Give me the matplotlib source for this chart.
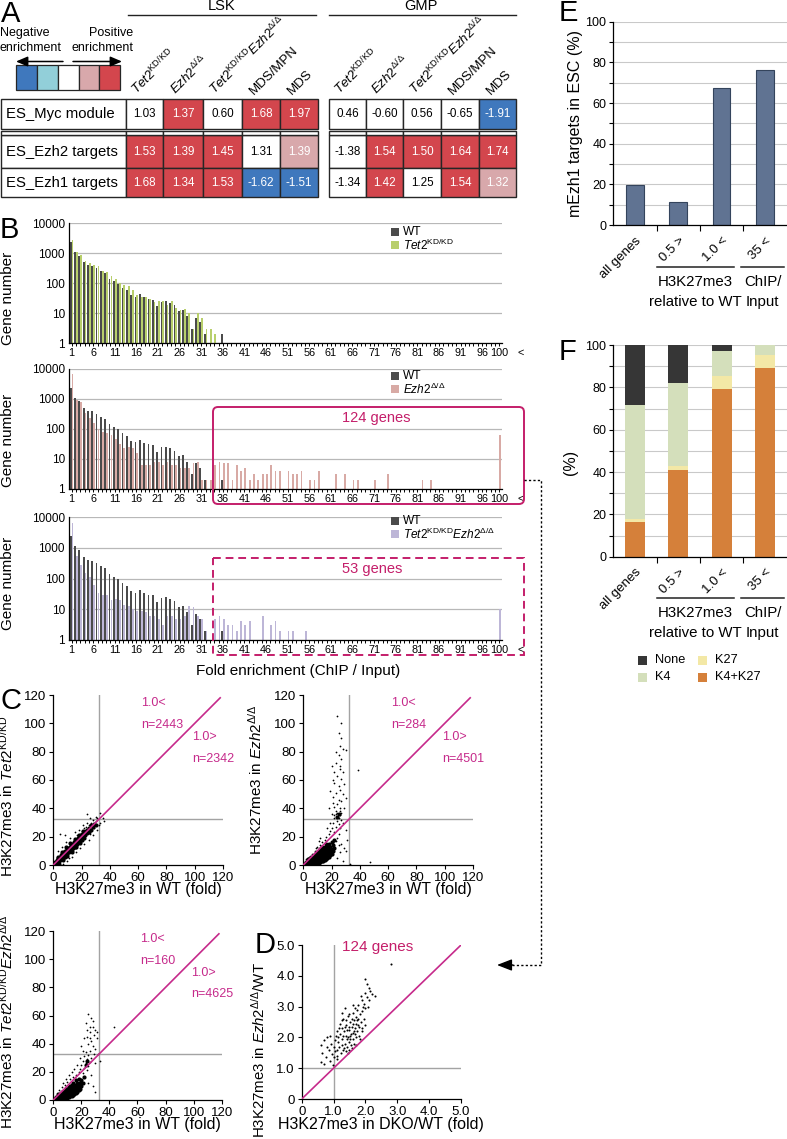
import numpy as np
import matplotlib
matplotlib.use("Agg")
import matplotlib.pyplot as plt
from matplotlib.patches import Rectangle, FancyBboxPatch
from matplotlib.ticker import NullLocator

plt.rcParams["font.family"] = ["Liberation Sans", "DejaVu Sans"]
plt.rcParams["mathtext.fontset"] = "custom"
plt.rcParams["mathtext.rm"] = "Liberation Sans"
plt.rcParams["mathtext.it"] = "Liberation Sans:italic"
plt.rcParams["mathtext.bf"] = "Liberation Sans:bold"
plt.rcParams["axes.linewidth"] = 0.9

W, H = 787, 1139

# ==========================================================
# Data
# ==========================================================

# Panel A: GSEA normalized enrichment scores
GENE_SETS = ["ES_Myc module", "ES_Ezh2 targets", "ES_Ezh1 targets"]
SAMPLES = [
    r"$\mathit{Tet2}^{\mathrm{KD/KD}}$",
    r"$\mathit{Ezh2}^{\mathrm{Δ/Δ}}$",
    r"$\mathit{Tet2}^{\mathrm{KD/KD}}\mathit{Ezh2}^{\mathrm{Δ/Δ}}$",
    "MDS/MPN",
    "MDS",
]
LSK_NES = [[1.03, 1.37, 0.60, 1.68, 1.97],
           [1.53, 1.39, 1.45, 1.31, 1.39],
           [1.68, 1.34, 1.53, -1.62, -1.51]]
LSK_LEVEL = [[0, 2, 0, 2, 2],
             [2, 2, 2, 0, 1],
             [2, 2, 2, -2, -2]]
GMP_NES = [[0.46, -0.60, 0.56, -0.65, -1.91],
           [-1.38, 1.54, 1.50, 1.64, 1.74],
           [-1.34, 1.42, 1.25, 1.54, 1.32]]
GMP_LEVEL = [[0, 0, 0, 0, -2],
             [0, 2, 2, 2, 2],
             [0, 2, 0, 2, 1]]
LEVELS = [-2, -1, 0, 1, 2]

# Panel B: histograms of fold enrichment (bins 1..100)
WT_HEAD = [2400, 1100, 820, 510, 400, 380, 310, 250, 215, 140, 115, 95, 70, 58,
           40, 35, 42, 33, 30, 28, 17, 24, 25, 22, 18, 12, 13, 8, 3, 7, 5, 2]
WT_TAIL_BIN = [36]
WT_TAIL_N = [2]

TET2_HEAD = [2800, 1100, 850, 560, 480, 400, 380, 260, 240, 170, 140, 100, 85,
             80, 60, 40, 33, 35, 30, 24, 25, 25, 18, 25, 15, 13, 14, 10, 3, 10,
             7, 3, 3, 2]
TET2_TAIL_BIN = []
TET2_TAIL_N = []

EZH2_HEAD = [7000, 900, 800, 340, 230, 150, 100, 80, 70, 60, 45, 30, 22, 25,
             22, 15, 6, 6, 6, 8, 8, 6, 8, 6, 6, 5, 5, 5, 7, 8, 2, 2, 2]
EZH2_TAIL_BIN = [34, 35, 36, 37, 38, 39, 40, 41, 42, 43, 44, 45, 46, 47, 48, 49,
                 51, 52, 53, 54, 56, 57, 58, 62, 64, 66, 67, 71, 74, 82, 84, 100]
EZH2_TAIL_N = [6, 8, 7, 7, 2, 6, 4, 5, 2, 3, 2, 3, 3, 6, 4, 4,
               4, 3, 3, 4, 2, 2, 4, 3, 3, 2, 2, 2, 3, 2, 2, 60]

DKO_HEAD = [6600, 530, 280, 150, 110, 60, 35, 30, 30, 20, 22, 20, 14, 13, 10,
            9, 9, 8, 6, 6, 5, 3, 6, 6, 5, 5, 6, 13, 12, 6, 5, 2]
DKO_TAIL_BIN = [34, 35, 36, 37, 38, 39, 40, 41, 42, 45, 47, 48, 49, 51, 52, 55, 100]
DKO_TAIL_N = [5, 6, 5, 3, 3, 2, 4, 3, 4, 6, 3, 4, 2, 2, 2, 2, 10]

HIST_TICKS = [1, 6, 11, 16, 21, 26, 31, 36, 41, 46, 51, 56, 61, 66, 71, 76,
              81, 86, 91, 96, 100]

# Panel C: H3K27me3 fold enrichment, mutant vs WT (dense cores + sparse points)
C1_CORE = [(0.5, 0.5), (1, 1.8), (1.5, 0.6), (2, 2.2), (2.5, 3.5), (3, 1.5), (3, 3),
           (3.5, 5), (4, 2.5), (4, 4), (4.5, 6), (5, 3.5), (5, 5), (5.5, 7), (6, 4.5),
           (6, 6), (6.5, 8), (7, 5), (7, 7), (7.5, 9), (8, 6), (8, 8), (8.5, 10),
           (9, 7), (9, 9), (9.5, 11), (10, 8), (10, 10), (10.5, 12), (11, 9), (11, 11),
           (11.5, 13), (12, 10), (12, 12), (12.5, 14), (13, 11), (13, 13), (13.5, 15),
           (14, 12), (14, 14), (14.5, 16), (15, 13), (15, 15), (15.5, 17), (16, 14),
           (16, 16), (16.5, 18), (17, 15), (17, 17), (17.5, 19), (18, 16), (18, 18),
           (18.5, 20), (19, 17), (19, 19), (19.5, 21), (20, 18), (20, 20), (20.5, 22),
           (21, 19.5), (21.5, 21.5), (22, 23), (22.5, 21), (23, 24), (23.5, 22.5),
           (24, 25), (25, 23.5), (25.5, 26), (26.5, 25), (27, 28), (28, 26.5),
           (29, 29), (30, 28), (4, 1), (7, 3.5), (10, 6.5), (13, 9.5), (16, 12.5),
           (19, 15.5), (22, 19), (3, 6), (6, 9.5), (9, 12.5), (12, 15.5), (15, 18.5),
           (18, 21.5), (21, 24)]
C1_SPARSE = [(5, 22), (8, 21), (3, 10), (6, 13), (9, 16), (12, 19), (15, 23), (18, 25),
             (21, 28), (24, 30), (26, 33), (28, 32), (30, 34), (24, 36), (33, 37),
             (35, 33), (33, 30), (31, 25), (28, 21), (25, 18), (22, 15), (19, 12),
             (16, 9), (13, 6), (10, 3), (30, 31), (27, 30), (29, 26), (32, 28),
             (26, 22), (23, 27), (20, 24), (17, 21), (14, 10), (11, 5), (7, 1),
             (36, 31), (31, 33), (25, 28), (22, 26)]

C2_CORE = [(0.5, 0.3), (1, 1), (1.5, 0.5), (2, 1.8), (2, 0.6), (3, 1), (3, 2.5),
           (3.5, 4), (4, 0.8), (4, 2), (4, 3.5), (5, 1), (5, 2.5), (5, 4.5), (5.5, 6),
           (6, 0.8), (6, 2), (6, 3.5), (6, 5), (7, 1), (7, 2.5), (7, 4), (7, 6),
           (8, 1), (8, 2.5), (8, 4), (8, 5.5), (8, 7.5), (9, 1.5), (9, 3), (9, 4.5),
           (9, 6), (9, 8), (10, 1), (10, 2.5), (10, 4), (10, 5.5), (10, 7), (10, 9),
           (11, 1.5), (11, 3), (11, 4.5), (11, 6), (11, 8), (11, 10), (12, 2),
           (12, 3.5), (12, 5), (12, 7), (12, 9), (12, 11), (13, 2.5), (13, 4), (13, 6),
           (13, 8), (13, 10), (13, 12.5), (14, 3), (14, 5), (14, 7), (14, 9),
           (14, 11.5), (15, 3.5), (15, 6), (15, 8), (15, 10), (15, 13), (16, 4),
           (16, 6.5), (16, 9), (16, 12), (16, 15), (17, 5), (17, 7.5), (17, 10),
           (17, 13), (18, 5.5), (18, 8), (18, 11), (18, 15), (19, 7), (19, 10),
           (19, 13), (20, 8), (20, 11), (20, 16), (21, 10), (21, 14), (22, 12),
           (22, 18), (24, 34), (25, 36)]
C2_SPARSE = [(24, 105), (25, 93), (27, 90), (26, 84), (28, 82), (30, 81), (25, 78),
             (27, 75), (23, 72), (26, 68), (28, 66), (39, 67), (24, 63), (27, 61),
             (22, 58), (25, 56), (29, 57), (26, 53), (23, 51), (28, 50), (21, 48),
             (25, 46), (27, 45), (30, 47), (24, 43), (22, 41), (26, 40), (29, 40),
             (23, 38), (25, 36), (24, 34), (26, 35), (22, 33), (27, 32), (24, 31),
             (21, 30), (25, 29), (23, 27), (20, 26), (26, 26), (19, 24), (22, 23),
             (18, 22), (25, 22), (16, 20), (24, 19), (15, 18), (13, 16), (12, 14),
             (11, 17), (10, 13), (9, 12), (17, 26), (19, 30), (20, 36), (18, 40),
             (21, 44), (19, 52), (21, 60), (22, 66), (23, 80), (20, 70), (27, 100),
             (26, 70), (28, 30), (30, 25), (31, 18), (29, 12), (30, 10), (27, 15),
             (26, 9), (24, 5), (47, 2), (33, 1), (28, 3), (25, 14), (23, 17), (21, 16),
             (12, 19), (8, 10), (6, 8), (4, 6), (3, 5), (2, 4), (23, 36), (26, 38),
             (24, 37), (22, 35), (27, 37), (25, 33)]

C3_CORE = [(0.5, 0.3), (1, 1), (1.5, 0.5), (2, 1.8), (3, 1), (3, 2.5), (3.5, 4),
           (4, 0.8), (4, 2.2), (4, 3.5), (5, 1), (5, 2.5), (5, 4.5), (6, 1), (6, 2.5),
           (6, 4), (6, 5.5), (7, 1), (7, 2.5), (7, 4), (7, 6), (8, 1.2), (8, 3),
           (8, 4.5), (8, 6.5), (9, 1.5), (9, 3.5), (9, 5), (9, 7.5), (10, 1.5),
           (10, 3.5), (10, 5.5), (10, 8), (11, 2), (11, 4), (11, 6), (11, 9),
           (12, 2.5), (12, 4.5), (12, 7), (12, 10), (13, 3), (13, 5), (13, 8),
           (13, 11), (14, 3.5), (14, 6), (14, 9), (14, 12), (15, 4), (15, 7),
           (15, 10), (16, 5), (16, 8), (16, 11), (16, 14), (17, 6), (17, 9),
           (17, 12), (18, 7), (18, 10), (18, 15), (19, 8), (19, 12), (20, 10),
           (20, 14), (21, 12), (22, 16), (23, 25), (24, 28)]
C3_SPARSE = [(25, 61), (27, 58), (23, 55), (28, 52), (30, 50), (43, 52), (26, 48),
             (29, 46), (31, 44), (24, 45), (27, 42), (25, 40), (28, 38), (30, 36),
             (26, 35), (23, 34), (25, 32), (22, 31), (27, 30), (24, 29), (21, 28),
             (26, 27), (23, 26), (20, 25), (25, 24), (22, 23), (19, 22), (24, 21),
             (18, 20), (21, 19), (16, 18), (14, 16), (12, 15), (10, 13), (8, 11),
             (6, 9), (4, 7), (30, 6), (28, 10), (25, 12), (27, 18), (30, 26),
             (32, 33), (33, 28), (29, 33), (26, 52), (28, 56), (24, 50), (22, 44),
             (20, 38), (21, 35), (19, 30), (17, 25), (15, 22), (13, 20), (11, 18),
             (9, 15), (7, 12), (31, 48), (26, 44)]

# Panel D: 124 genes, Ezh2/WT vs DKO/WT
D_POINTS = [(0.6, 1.2), (0.65, 1.5), (0.7, 1.9), (0.75, 1.35), (0.8, 2.0), (0.85, 1.6),
            (0.9, 1.25), (0.92, 1.8), (0.95, 1.45), (0.6, 1.75), (0.7, 1.15),
            (0.88, 2.05), (0.78, 1.7), (0.97, 1.1), (1.02, 1.7), (1.05, 1.55),
            (1.08, 2.05), (1.1, 1.3), (1.12, 1.6), (1.15, 1.85), (1.18, 1.7), (1.2, 2.1),
            (1.22, 1.5), (1.25, 1.75), (1.25, 2.3), (1.28, 1.95), (1.3, 1.6), (1.3, 2.6),
            (1.32, 2.2), (1.35, 1.8), (1.35, 2.95), (1.38, 2.05), (1.4, 1.55), (1.4, 2.4),
            (1.42, 1.7), (1.45, 2.0), (1.45, 2.7), (1.48, 1.85), (1.5, 2.25), (1.5, 1.6),
            (1.52, 2.5), (1.55, 2.1), (1.55, 1.75), (1.58, 2.35), (1.6, 1.95), (1.6, 2.8),
            (1.62, 2.15), (1.65, 2.55), (1.65, 1.8), (1.68, 2.3), (1.7, 2.0), (1.7, 2.65),
            (1.72, 2.45), (1.75, 2.2), (1.75, 2.9), (1.78, 2.6), (1.8, 2.35), (1.8, 2.05),
            (1.82, 2.75), (1.85, 2.5), (1.88, 2.3), (1.9, 2.85), (1.92, 3.0), (1.95, 2.6),
            (1.2, 2.45), (1.28, 2.8), (1.38, 2.55), (1.42, 2.25), (1.47, 2.35),
            (1.52, 1.95), (1.57, 2.6), (1.62, 2.45), (1.67, 2.1), (1.72, 1.75),
            (1.77, 2.4), (1.83, 1.95), (1.15, 2.0), (1.33, 1.65), (1.43, 1.95),
            (1.53, 2.05), (1.63, 2.2), (1.73, 2.55), (1.35, 2.35), (1.25, 2.55),
            (1.45, 1.5), (1.58, 1.65), (1.12, 1.4), (1.48, 2.75), (1.68, 2.95),
            (1.6, 3.05), (1.78, 3.05), (1.9, 3.2), (2.0, 3.45), (2.05, 3.3), (2.1, 3.6),
            (2.15, 3.5), (2.0, 3.9), (2.05, 3.75), (2.2, 3.4), (2.3, 3.35), (2.1, 3.2),
            (2.79, 4.38), (1.85, 3.35), (1.95, 3.1), (2.0, 2.95), (2.08, 3.0), (2.0, 2.4),
            (1.9, 2.2), (1.05, 1.9), (1.18, 2.3), (1.1, 2.2), (1.0, 1.35), (1.3, 2.05)]

# Panel E / F
GROUP_CATS = ["all genes", "0.5 >", "1.0 <", "35 <"]
E_MEZH1 = [19.5, 11.5, 67.5, 76.0]
F_K4K27 = [16.5, 41.0, 79.0, 89.0]
F_K27 = [1.5, 2.0, 6.5, 6.5]
F_K4 = [53.5, 39.0, 11.5, 4.5]
F_NONE = [28.5, 18.0, 3.0, 0.0]

# ==========================================================
# Styles
# ==========================================================

LEVEL_COLOR = {-2: "#3f78bd", -1: "#92cfd9", 0: "white", 1: "#d8a8ab", 2: "#d3464d"}
WT_COLOR = "#4b4b4b"
TET2_COLOR = "#b8cf6c"
EZH2_COLOR = "#d8aaa5"
DKO_COLOR = "#bdb6d7"
CRIMSON = "#c41e6a"
MAGENTA = "#c62a8b"
GRID = "#b8b8b8"
F_COLORS = {"None": "#363636", "K4": "#d4dfbb", "K27": "#f3e8a6", "K4+K27": "#d5803a"}

fig = plt.figure(figsize=(W / 100, H / 100), dpi=100)


def px_axes(l, t, r, b):
    return fig.add_axes([l / W, 1 - b / H, (r - l) / W, (b - t) / H])


def full_counts(head, tail_bin, tail_n):
    arr = np.zeros(100)
    arr[:len(head)] = head
    for b, n in zip(tail_bin, tail_n):
        arr[b - 1] = n
    return arr


# ==========================================================
# Panel B: histograms
# ==========================================================

wt = full_counts(WT_HEAD, WT_TAIL_BIN, WT_TAIL_N)
mutants = [
    (full_counts(TET2_HEAD, TET2_TAIL_BIN, TET2_TAIL_N), TET2_COLOR, SAMPLES[0]),
    (full_counts(EZH2_HEAD, EZH2_TAIL_BIN, EZH2_TAIL_N), EZH2_COLOR, SAMPLES[1]),
    (full_counts(DKO_HEAD, DKO_TAIL_BIN, DKO_TAIL_N), DKO_COLOR, SAMPLES[2]),
]
hist_boxes = [(69, 223, 502, 343), (69, 369, 502, 488.5), (69, 517, 502, 640)]
label_centers = [298, 440, 583]
cats = np.arange(1, 101)

for (l, t, r, b), (mut, col, lab), yc in zip(hist_boxes, mutants, label_centers):
    ax = px_axes(l, t, r, b)
    ax.bar(cats - 0.21, np.maximum(wt, 1) - 1, width=0.4, bottom=1,
           color=WT_COLOR, linewidth=0)
    ax.bar(cats + 0.21, np.maximum(mut, 1) - 1, width=0.4, bottom=1,
           color=col, linewidth=0)
    ax.set_yscale("log")
    ax.set_ylim(1, 10000)
    ax.set_xlim(0.4, 100.6)
    ax.set_yticks([1, 10, 100, 1000, 10000])
    ax.set_yticklabels(["1", "10", "100", "1000", "10000"])
    ax.yaxis.set_minor_locator(NullLocator())
    ax.yaxis.grid(True, color=GRID, lw=0.9)
    ax.set_axisbelow(True)
    for s in ["top", "right"]:
        ax.spines[s].set_visible(False)
    ax.tick_params(axis="y", length=0, labelsize=8.5, pad=3)
    ax.set_xticks(HIST_TICKS)
    ax.set_xticklabels([str(v) for v in HIST_TICKS])
    ax.set_xticks(cats, minor=True)
    ax.tick_params(axis="x", which="both", direction="out", length=2.2,
                   width=0.7, labelsize=7.8, pad=1.5)
    ax.annotate("<", xy=(100, 0), xycoords=("data", "axes fraction"),
                xytext=(13, -3.7), textcoords="offset points",
                ha="left", va="top", fontsize=7.8)
    ax.set_ylabel("Gene number", fontsize=11)
    ax.yaxis.set_label_coords((15 - l) / (r - l), (b - yc) / (b - t))

# ==========================================================
# Panel C: scatter plots
# ==========================================================

c_specs = [
    ((53.3, 695, 223, 865), C1_CORE, C1_SPARSE, SAMPLES[0], 16, 796, 882,
     ["1.0<", "n=2443", "1.0>", "n=2342"]),
    ((303.3, 695, 473, 865), C2_CORE, C2_SPARSE, SAMPLES[1], 265, 780, 882,
     ["1.0<", "n=284", "1.0>", "n=4501"]),
    ((53.3, 931, 221.7, 1100), C3_CORE, C3_SPARSE, SAMPLES[2], 16, 1022, 1117,
     ["1.0<", "n=160", "1.0>", "n=4625"]),
]
text_xy = [(62, 114), (62, 99), (98, 90), (98, 75)]

for (l, t, r, b), core, sparse, lab, lab_x, lab_y, xl_top, notes in c_specs:
    ax = px_axes(l, t, r, b)
    cx, cy = np.array(core).T
    sx, sy = np.array(sparse).T
    ax.axvline(32.5, color="#a3a3a3", lw=1)
    ax.axhline(32.5, color="#a3a3a3", lw=1)
    ax.scatter(cx, cy, s=9, color="black", linewidths=0, zorder=3)
    ax.scatter(sx, sy, s=1.6, color="black", linewidths=0, zorder=3)
    ax.plot([0, 118], [0, 118], color=MAGENTA, lw=1.2, zorder=4)
    ax.set_xlim(0, 120)
    ax.set_ylim(0, 120)
    ax.set_xticks(np.arange(0, 121, 20))
    ax.set_yticks(np.arange(0, 121, 20))
    for s in ["top", "right"]:
        ax.spines[s].set_visible(False)
    ax.tick_params(direction="out", length=3, width=0.8, labelsize=9.5, pad=2)
    for (tx, ty), note in zip(text_xy, notes):
        ax.text(tx, ty, note, color=MAGENTA, fontsize=9, ha="left", va="center")
    ax.set_xlabel("H3K27me3 in WT (fold)", fontsize=11.5)
    ax.xaxis.set_label_coords(0.5, (b - xl_top) / (b - t))
    ax.set_ylabel("H3K27me3 in " + lab, fontsize=11)
    ax.yaxis.set_label_coords((lab_x - l) / (r - l), (b - lab_y) / (b - t))

# ==========================================================
# Panel D
# ==========================================================

l, t, r, b = 301.7, 945, 461, 1099
axd = px_axes(l, t, r, b)
dx, dy = np.array(D_POINTS).T
axd.axvline(1.0, color="#a3a3a3", lw=1)
axd.axhline(1.0, color="#a3a3a3", lw=1)
axd.scatter(dx, dy, s=2.2, color="black", linewidths=0, zorder=3)
axd.plot([0, 5], [0, 5], color=MAGENTA, lw=1.2, zorder=4)
axd.set_xlim(0, 5)
axd.set_ylim(0, 5)
axd.set_xticks([0, 1, 2, 3, 4, 5])
axd.set_xticklabels(["0", "1.0", "2.0", "3.0", "4.0", "5.0"])
axd.set_yticks([0, 1, 2, 3, 4, 5])
axd.set_yticklabels(["0", "1.0", "2.0", "3.0", "4.0", "5.0"])
for s in ["top", "right"]:
    axd.spines[s].set_visible(False)
axd.tick_params(direction="out", length=3, width=0.8, labelsize=9.5, pad=2)
axd.text(1.25, 4.95, "124 genes", color=CRIMSON, fontsize=11, ha="left", va="center")
axd.set_xlabel("H3K27me3 in DKO/WT (fold)", fontsize=11.5)
axd.xaxis.set_label_coords(0.5, (b - 1117) / (b - t))
axd.set_ylabel("H3K27me3 in " + r"$\mathit{Ezh2}^{\mathrm{Δ/Δ}}$" + "/WT", fontsize=10.8)
axd.yaxis.set_label_coords((268 - l) / (r - l), (b - 1050) / (b - t))

# ==========================================================
# Panels E and F
# ==========================================================

pos = np.arange(len(GROUP_CATS))


def style_pct(ax):
    ax.set_xlim(-0.5, 3.5)
    ax.set_ylim(0, 100)
    ax.set_yticks(np.arange(0, 101, 20))
    ax.set_yticks(np.arange(0, 101, 10), minor=True)
    ax.yaxis.grid(True, which="both", color="#c9c9c9", lw=0.8)
    ax.set_axisbelow(True)
    for s in ["top", "right"]:
        ax.spines[s].set_visible(False)
    ax.tick_params(axis="y", which="both", direction="out", length=3,
                   width=0.8, labelsize=9, pad=2)
    ax.set_xticks(pos)
    ax.set_xticklabels(GROUP_CATS, rotation=45, ha="right",
                       rotation_mode="anchor", fontsize=9.5)
    ax.set_xticks([0.5, 1.5, 2.5], minor=True)
    ax.tick_params(axis="x", which="major", length=0, pad=7)
    ax.tick_params(axis="x", which="minor", direction="out", length=4, width=0.8)


l, t, r, b = 613.3, 21.7, 786.6, 225
axe = px_axes(l, t, r, b)
axe.bar(pos, E_MEZH1, width=0.41, color="#607392", edgecolor="#34445c", linewidth=0.8)
style_pct(axe)
axe.set_ylabel("mEzh1 targets in ESC (%)", fontsize=11.5)
axe.yaxis.set_label_coords((583 - l) / (r - l), 0.5)

l, t, r, b = 613.3, 345, 786.6, 556.7
axf = px_axes(l, t, r, b)
bottom = np.zeros(4)
for name, vals in [("K4+K27", F_K4K27), ("K27", F_K27), ("K4", F_K4), ("None", F_NONE)]:
    axf.bar(pos, vals, bottom=bottom, width=0.46, color=F_COLORS[name], linewidth=0)
    bottom = bottom + np.array(vals)
style_pct(axf)

# ==========================================================
# Overlay: panel A table, letters, boxes, annotations
# ==========================================================

ov = fig.add_axes([0, 0, 1, 1])
ov.set_xlim(0, W)
ov.set_ylim(H, 0)
ov.axis("off")
ov.set_zorder(10)

BORDER = "#262626"
row_y = [(99, 128.5), (135, 167.5), (167.5, 197)]
strip_y = (131, 135)
lsk_x = [126, 163, 203, 242, 280, 318]
gmp_x = [329, 366, 403, 441, 479, 516]


def cell(x0, x1, y0, y1, fc="white"):
    ov.add_patch(Rectangle((x0, y0), x1 - x0, y1 - y0, facecolor=fc,
                           edgecolor=BORDER, lw=1))


# row labels
for (y0, y1), name in zip(row_y, GENE_SETS):
    cell(1, 126, y0, y1)
    ov.text(6, (y0 + y1) / 2 + 0.5, name, fontsize=10.7, ha="left", va="center")
cell(1, 126, *strip_y)

for edges, nes, level in [(lsk_x, LSK_NES, LSK_LEVEL), (gmp_x, GMP_NES, GMP_LEVEL)]:
    for i, (y0, y1) in enumerate(row_y):
        for j in range(5):
            lv = level[i][j]
            cell(edges[j], edges[j + 1], y0, y1, LEVEL_COLOR[lv])
            ov.text((edges[j] + edges[j + 1]) / 2, (y0 + y1) / 2 + 0.5,
                    f"{nes[i][j]:.2f}", fontsize=8.4, ha="center", va="center",
                    color="white" if lv != 0 else "black")
    for j in range(5):
        cell(edges[j], edges[j + 1], *strip_y)
    for j, lab in enumerate(SAMPLES):
        cxp = (edges[j] + edges[j + 1]) / 2
        ov.text(cxp - 7, 95, lab, rotation=45, rotation_mode="anchor",
                ha="left", va="baseline", fontsize=9.5)

ov.plot([128, 316], [15, 15], color="#222222", lw=1)
ov.plot([329, 516], [15, 15], color="#222222", lw=1)
ov.text(222, 6, "LSK", fontsize=10.5, ha="center", va="center")
ov.text(421, 6, "GMP", fontsize=10.5, ha="center", va="center")

# colour legend
leg_x = [16, 36.7, 58.3, 79, 99.3, 120]
for k, lv in enumerate(LEVELS):
    ov.add_patch(Rectangle((leg_x[k], 65), leg_x[k + 1] - leg_x[k], 25,
                           facecolor=LEVEL_COLOR[lv], edgecolor=BORDER, lw=0.9))
ov.text(0, 33, "Negative", fontsize=9, ha="left", va="center")
ov.text(0, 48, "enrichment", fontsize=9, ha="left", va="center")
ov.text(133, 33, "Positive", fontsize=9, ha="right", va="center")
ov.text(133, 48, "enrichment", fontsize=9, ha="right", va="center")
ov.annotate("", xy=(16, 61.5), xytext=(63, 61.5),
            arrowprops=dict(arrowstyle="-|>,head_length=0.7,head_width=0.3",
                            color="black", lw=1.1, shrinkA=0, shrinkB=0))
ov.annotate("", xy=(122, 61.5), xytext=(73, 61.5),
            arrowprops=dict(arrowstyle="-|>,head_length=0.7,head_width=0.3",
                            color="black", lw=1.1, shrinkA=0, shrinkB=0))

# panel letters
for letter, x, y in [("A", 1, 22), ("B", 0, 238), ("C", 0, 709), ("D", 255, 953),
                     ("E", 559, 21), ("F", 559, 360)]:
    ov.text(x, y, letter, fontsize=21, ha="left", va="baseline")

# histogram legends
legend_rows = [(232, 245, SAMPLES[0], TET2_COLOR),
               (376, 389, SAMPLES[1], EZH2_COLOR),
               (521, 534, SAMPLES[2], DKO_COLOR)]
for y_wt, y_mut, lab, col in legend_rows:
    ov.add_patch(Rectangle((391, y_wt - 4), 8, 8, facecolor=WT_COLOR, lw=0))
    ov.add_patch(Rectangle((391, y_mut - 4), 8, 8, facecolor=col, lw=0))
    ov.text(403, y_wt, "WT", fontsize=8.6, ha="left", va="center")
    ov.text(403, y_mut + 0.5, lab, fontsize=8.6, ha="left", va="center")

ov.text(298, 671, "Fold enrichment (ChIP / Input)", fontsize=11, ha="center", va="center")

# highlight boxes
ov.add_patch(FancyBboxPatch((213, 407), 311, 97, boxstyle="round,pad=0,rounding_size=5",
                            fill=False, edgecolor=CRIMSON, lw=1.4))
ov.text(376, 418, "124 genes", color=CRIMSON, fontsize=10.5, ha="center", va="center")
ov.add_patch(Rectangle((213, 557.5), 311, 97, fill=False, edgecolor=CRIMSON,
                       lw=1.4, ls=(0, (4, 2.5))))
ov.text(372, 569, "53 genes", color=CRIMSON, fontsize=10.5, ha="center", va="center")

# connector to panel D
ov.plot([524, 541, 541, 512], [480, 480, 965, 965], color="black", lw=1,
        ls=(0, (1.6, 1.6)))
ov.annotate("", xy=(497, 965), xytext=(513, 965),
            arrowprops=dict(arrowstyle="-|>,head_length=0.9,head_width=0.35",
                            color="black", lw=1, shrinkA=0, shrinkB=0))

# group labels under E and F
for y_line, y1, y2 in [(266.7, 281.7, 301.7), (598.3, 613, 633.3)]:
    ov.plot([657, 734], [y_line, y_line], color="#222222", lw=1.1)
    ov.plot([741, 784], [y_line, y_line], color="#222222", lw=1.1)
    ov.text(695.5, y1, "H3K27me3", fontsize=10.8, ha="center", va="center")
    ov.text(695.5, y2, "relative to WT", fontsize=10.8, ha="center", va="center")
    ov.text(762.5, y1, "ChIP/", fontsize=10.8, ha="center", va="center")
    ov.text(762.5, y2, "Input", fontsize=10.8, ha="center", va="center")

ov.text(578, 462, "(%)", fontsize=11.5, rotation=90, ha="right", va="center")

# F legend
for name, x, y in [("None", 638, 660), ("K27", 697.5, 660),
                   ("K4", 638, 677), ("K4+K27", 697.5, 677)]:
    ov.add_patch(Rectangle((x, y - 4.5), 9, 9, facecolor=F_COLORS[name], lw=0))
    ov.text(x + 17, y, name, fontsize=9.2, ha="left", va="center")

fig.savefig("out.png", dpi=100)
